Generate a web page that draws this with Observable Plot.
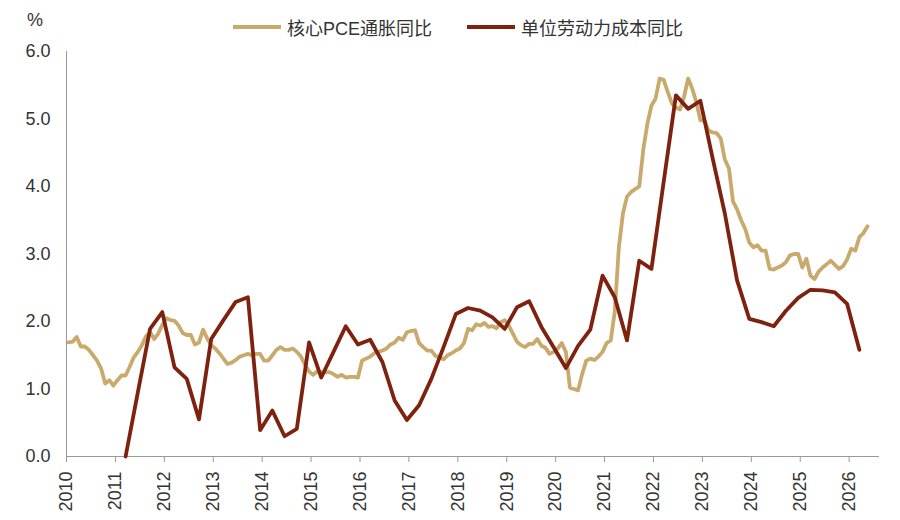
<!DOCTYPE html>
<html>
<head>
<meta charset="utf-8">
<script src="https://cdn.jsdelivr.net/npm/d3@7"></script>
<script src="https://cdn.jsdelivr.net/npm/@observablehq/plot@0.6"></script>
<style>
  html, body { margin: 0; padding: 0; background: #fff; }
  body { width: 900px; height: 520px; position: relative; overflow: hidden;
         font-family: "Liberation Sans", Arial, "Noto Sans CJK SC", sans-serif; color: #333; }
  #header { position: relative; height: 36px; }
  #unit { position: absolute; left: 27px; top: 10px; font-size: 18px; }
  #legend { position: absolute; left: 233px; top: 14px; display: flex; align-items: center; font-size: 18px;
            font-family: "Liberation Sans", "Noto Sans CJK SC", sans-serif; }
  .item { display: flex; align-items: center; margin-right: 35px; }
  .sw { width: 48px; height: 4px; margin-right: 6px; }
</style>
</head>
<body>
<div id="header">
  <div id="unit">%</div>
  <div id="legend"></div>
</div>
<div id="chart"></div>
<script>
// ---- data ----
const yearTicks = [2010,2011,2012,2013,2014,2015,2016,2017,2018,2019,2020,2021,2022,2023,2024,2025,2026];
const yTicks = [0,1,2,3,4,5,6];

const seriesNames = ["核心PCE通胀同比", "单位劳动力成本同比"];
const seriesColors = ["#C9AA6C", "#7E220F"];

// core PCE y/y, monthly from 2010-01
const pceStartYear = 2010;
const pceValues = [
  1.69,1.70,1.77,1.63,1.63,1.58,1.50,1.42,1.30,1.08,1.13,1.05,   // 2010
  1.13,1.20,1.20,1.33,1.47,1.55,1.65,1.78,1.84,1.74,1.82,1.95,   // 2011
  2.05,2.02,2.01,1.94,1.83,1.80,1.80,1.66,1.69,1.88,1.75,1.65,   // 2012
  1.60,1.53,1.45,1.37,1.39,1.43,1.48,1.50,1.52,1.50,1.52,1.52,   // 2013
  1.42,1.42,1.50,1.58,1.62,1.58,1.58,1.60,1.55,1.48,1.36,1.26,   // 2014
  1.21,1.26,1.25,1.25,1.25,1.22,1.18,1.21,1.17,1.18,1.18,1.17,   // 2015
  1.42,1.45,1.48,1.53,1.55,1.57,1.60,1.66,1.69,1.76,1.73,1.84,   // 2016
  1.86,1.87,1.68,1.62,1.57,1.57,1.49,1.47,1.44,1.50,1.53,1.57,   // 2017
  1.60,1.68,1.89,1.87,1.96,1.94,1.98,1.92,1.93,1.90,1.99,2.02,   // 2018
  1.94,1.82,1.70,1.65,1.62,1.67,1.67,1.74,1.64,1.61,1.52,1.55,   // 2019
  1.60,1.68,1.55,1.02,1.00,0.98,1.22,1.42,1.45,1.43,1.48,1.55,   // 2020
  1.68,1.72,2.15,3.10,3.60,3.85,3.92,3.96,4.00,4.55,4.93,5.20,   // 2021
  5.30,5.60,5.58,5.40,5.23,5.17,5.14,5.33,5.60,5.45,5.25,4.98,   // 2022
  4.98,4.83,4.80,4.79,4.71,4.40,4.27,3.78,3.66,3.50,3.37,3.17,   // 2023
  3.10,3.13,3.05,3.05,2.78,2.77,2.80,2.83,2.88,2.98,3.00,3.00,   // 2024
  2.80,2.93,2.68,2.63,2.74,2.80,2.85,2.90,2.84,2.78,2.82,2.92,   // 2025
  3.08,3.05,3.25,3.31,3.41                                       // 2026
];

// unit labor cost y/y, quarterly from 2011Q1
const ulcStartYear = 2011;
const ulcValues = [
  0.00,0.95,1.89,2.14,   // 2011
  1.32,1.15,0.55,1.74,   // 2012
  2.02,2.29,2.36,0.39,   // 2013
  0.68,0.30,0.41,1.69,   // 2014
  1.17,1.55,1.93,1.66,   // 2015
  1.73,1.40,0.83,0.54,   // 2016
  0.76,1.15,1.62,2.11,   // 2017
  2.20,2.16,2.06,1.89,   // 2018
  2.21,2.30,1.92,1.62,   // 2019
  1.31,1.64,1.88,2.68,   // 2020
  2.36,1.72,2.90,2.78,   // 2021
  4.07,5.35,5.15,5.27,   // 2022
  4.42,3.60,2.61,2.04,   // 2023
  1.99,1.93,2.16,2.35,   // 2024
  2.47,2.46,2.43,2.26,   // 2025
  1.58                   // 2026
];

// ---- tables ----
const pce = pceValues.map((v, i) => ({t: pceStartYear + (i + 0.5) / 12, v}));
const ulc = ulcValues.map((v, i) => ({t: ulcStartYear + (i * 3 + 2.5) / 12, v}));

// ---- legend ----
const legend = document.getElementById("legend");
seriesNames.forEach((name, i) => {
  const item = document.createElement("div");
  item.className = "item";
  const sw = document.createElement("div");
  sw.className = "sw";
  sw.style.background = seriesColors[i];
  const tx = document.createElement("span");
  tx.textContent = name;
  item.appendChild(sw); item.appendChild(tx);
  legend.appendChild(item);
});

// ---- chart ----
const chart = Plot.plot({
  width: 900,
  height: 484,
  marginLeft: 66,
  marginRight: 21,
  marginTop: 15,
  marginBottom: 64,
  style: {fontFamily: '"Liberation Sans", Arial, sans-serif', fontSize: "18px", color: "#333", background: "#fff"},
  x: {domain: [2010, 2026.62]},
  y: {domain: [0, 6]},
  marks: [
    Plot.axisY({ticks: yTicks, tickFormat: d => d.toFixed(1), tickSize: 0, tickPadding: 16, label: null, fontSize: 18}),
    Plot.axisX({ticks: yearTicks, tickFormat: d => String(d), tickRotate: -90, tickSize: 6, tickPadding: 9, label: null, fontSize: 18, stroke: "#999"}),
    Plot.ruleX([2010], {stroke: "#999", strokeWidth: 1}),
    Plot.ruleY([0], {stroke: "#999", strokeWidth: 1}),
    Plot.line(pce, {x: "t", y: "v", stroke: seriesColors[0], strokeWidth: 3.8, strokeLinejoin: "round"}),
    Plot.line(ulc, {x: "t", y: "v", stroke: seriesColors[1], strokeWidth: 3.8, strokeLinejoin: "round"})
  ]
});
document.getElementById("chart").appendChild(chart);
</script>
</body>
</html>
